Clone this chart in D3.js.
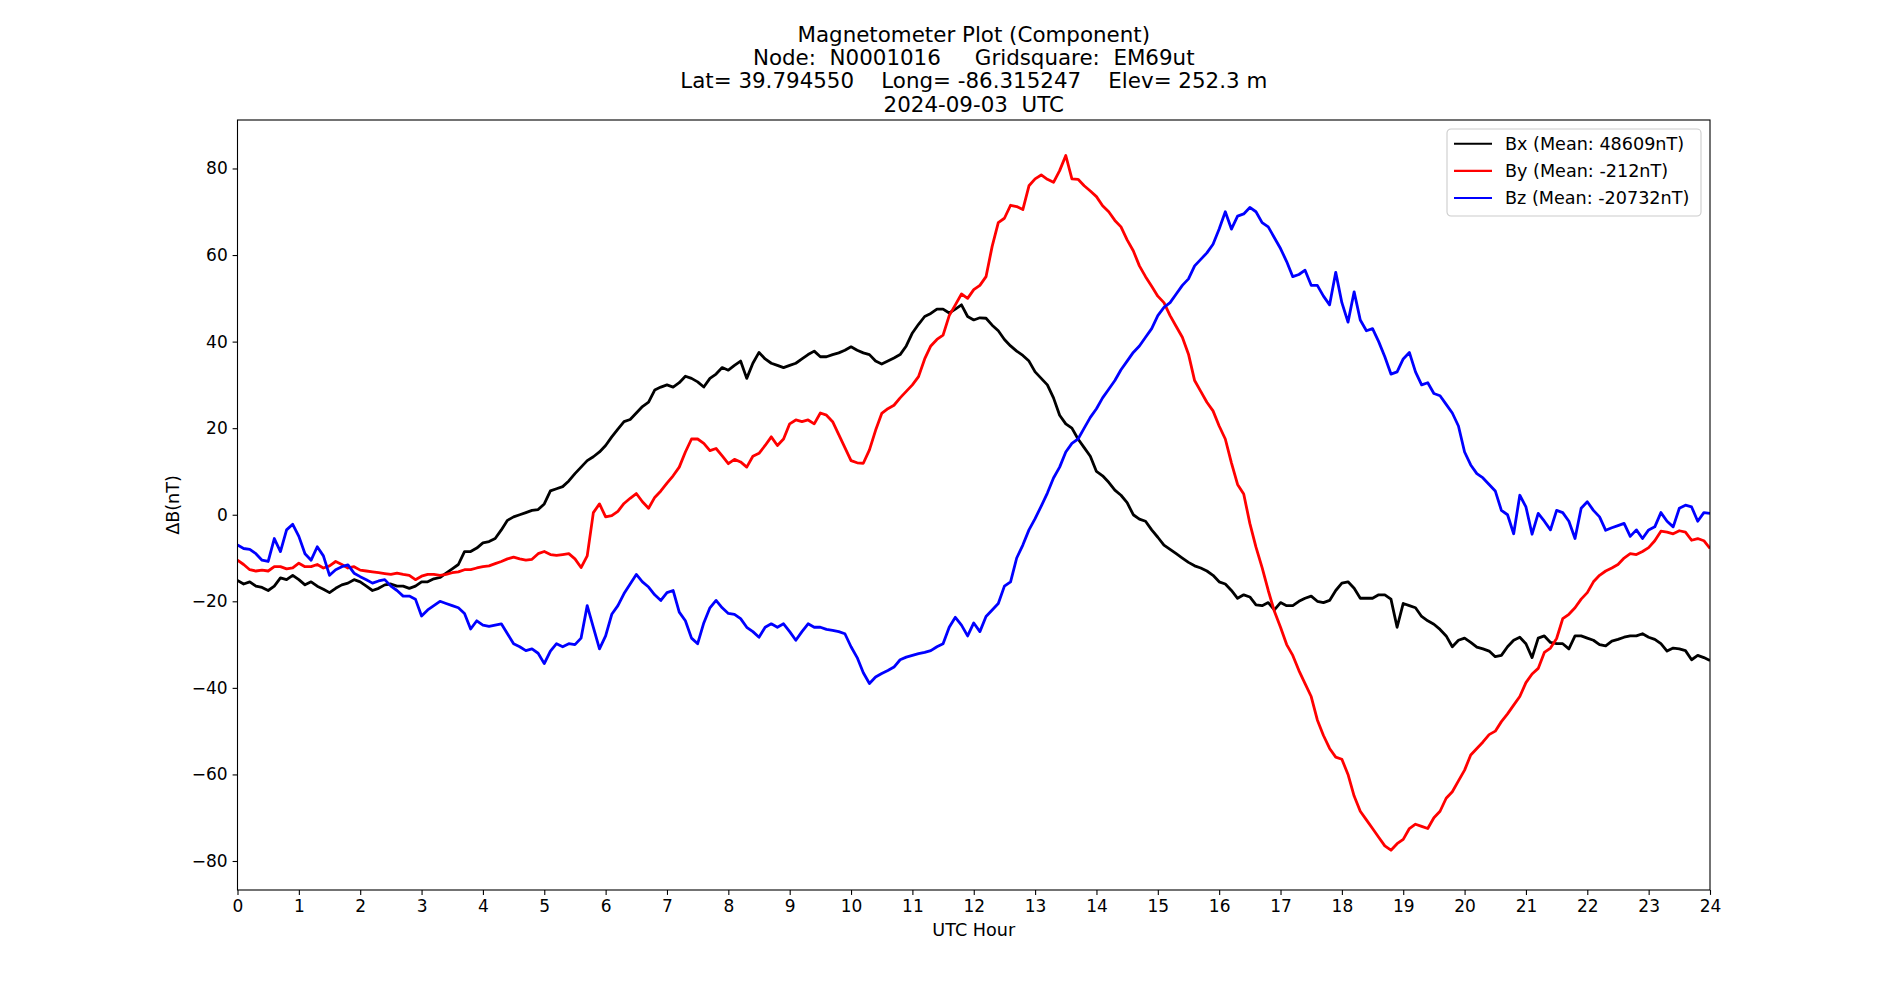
<!DOCTYPE html>
<html>
<head>
<meta charset="utf-8">
<script src="https://cdn.jsdelivr.net/npm/d3@7"></script>
<style>
  body { margin: 0; background: #fff; }
  svg text { font-family: "DejaVu Sans", sans-serif; fill: #000; white-space: pre; }
</style>
</head>
<body>
<div id="chart"></div>
<script>
// Magnetometer component plot, 24 h of deltas in nT (0.1 h steps)

const titleLines = [
  "Magnetometer Plot (Component)",
  "Node:  N0001016     Gridsquare:  EM69ut",
  "Lat= 39.794550    Long= -86.315247    Elev= 252.3 m",
  "2024-09-03  UTC"
];

const hourStep = 0.1;
const xTicks = d3.range(0, 25, 1);
const yTicks = [-80, -60, -40, -20, 0, 20, 40, 60, 80];
const yDomain = [-86.7, 91.2];

const seriesNames  = ["Bx (Mean: 48609nT)", "By (Mean: -212nT)", "Bz (Mean: -20732nT)"];
const seriesColors = ["#000000", "#ff0000", "#0000ff"];

const bx = [
  -15.2, -16, -15.5, -16.5, -16.8, -17.5, -16.5, -14.6, -15, -14,
  -15, -16.2, -15.5, -16.5, -17.2, -18, -17, -16.2, -15.8, -15,
  -15.5, -16.5, -17.5, -17, -16.2, -16, -16.5, -16.5, -17, -16.5,
  -15.5, -15.5, -14.8, -14.5, -13.5, -12.5, -11.5, -8.5, -8.5, -7.7,
  -6.5, -6.2, -5.5, -3.5, -1.3, -0.5, 0, 0.5, 1, 1.2,
  2.5, 5.5, 6, 6.5, 7.8, 9.5, 11, 12.5, 13.4, 14.5,
  16, 18, 19.8, 21.5, 22, 23.5, 25, 26, 28.8, 29.5,
  30, 29.5, 30.5, 32, 31.5, 30.7, 29.5, 31.5, 32.5, 34,
  33.4, 34.5, 35.5, 31.5, 35, 37.5, 36, 35, 34.5, 34,
  34.5, 35, 36, 37, 37.8, 36.5, 36.5, 37, 37.4, 38,
  38.8, 38, 37.4, 37, 35.5, 34.8, 35.5, 36.2, 37, 39,
  42, 44, 45.8, 46.5, 47.5, 47.5, 46.6, 47.5, 48.5, 45.8,
  45, 45.5, 45.4, 43.8, 42.5, 40.5, 39, 37.8, 36.8, 35.5,
  33, 31.5, 30, 27, 23, 21, 20, 17.5, 15.5, 13.5,
  10, 9, 7.5, 5.7, 4.5, 2.8, 0, -1, -1.5, -3.5,
  -5.2, -7, -8, -9, -10, -11, -11.8, -12.3, -13, -14,
  -15.5, -16, -17.5, -19.3, -18.5, -19, -20.8, -21, -20.3, -22,
  -20.3, -21, -21, -20, -19.3, -18.8, -20, -20.3, -19.8, -17.5,
  -15.8, -15.5, -17, -19.3, -19.3, -19.3, -18.5, -18.5, -19.5, -26,
  -20.5, -21, -21.5, -23.5, -24.5, -25.3, -26.5, -28, -30.5, -29,
  -28.5, -29.5, -30.6, -31, -31.5, -32.8, -32.5, -30.5, -29, -28.3,
  -29.8, -33, -28.5, -28, -29.5, -29.8, -29.8, -31, -28, -28,
  -28.5, -29, -30, -30.3, -29.2, -28.8, -28.3, -28, -28, -27.5,
  -28.3, -28.8, -29.8, -31.5, -30.8, -31, -31.4, -33.5, -32.5, -33,
  -33.7
];

const by = [
  -10.5, -11.5, -12.7, -13, -12.8, -13, -12, -12, -12.5, -12.3,
  -11.2, -12, -12, -11.5, -12.3, -11.8, -10.8, -11.5, -12.3, -12,
  -12.8, -13, -13.2, -13.4, -13.6, -13.8, -13.5, -13.8, -14, -15,
  -14.2, -13.8, -13.8, -14, -13.8, -13.4, -13.2, -12.7, -12.7, -12.3,
  -12, -11.8, -11.3, -10.8, -10.2, -9.8, -10.2, -10.5, -10.3, -9,
  -8.5, -9.2, -9.4, -9.2, -9, -10.2, -12.2, -9.5, 0.5, 2.5,
  -0.5, -0.2, 0.8, 2.6, 3.8, 4.9, 3, 1.5, 4, 5.5,
  7.3, 9, 11, 14.5, 17.5, 17.5, 16.5, 14.8, 15.3, 13.6,
  11.8, 12.8, 12.2, 11, 13.5, 14.2, 16, 18, 16, 17.5,
  21, 21.9, 21.5, 21.9, 21, 23.5, 23, 21.5, 18.5, 15.5,
  12.5, 12, 11.9, 15, 19.5, 23.4, 24.5, 25.3, 27, 28.5,
  30, 31.9, 36, 39, 40.5, 41.5, 46, 48.5, 51, 50,
  52, 53, 55, 62, 67.5, 68.5, 71.5, 71.2, 70.5, 76,
  77.6, 78.5, 77.5, 76.8, 79.5, 83, 77.6, 77.5, 76, 74.8,
  73.5, 71.4, 70, 68, 66.5, 63.5, 61, 57.5, 55, 52.8,
  50.5, 49, 46, 43.5, 41, 37.1, 31, 28.5, 26, 24,
  20.5, 17.5, 12, 7, 4.8, -2, -7.5, -12.2, -17.5, -22.3,
  -26, -30, -32.5, -36, -39, -42, -47.4, -51, -54, -56,
  -56.5, -60, -65, -68.5, -70.5, -72.5, -74.5, -76.5, -77.5, -76,
  -75, -72.5, -71.5, -72, -72.5, -70, -68.5, -65.5, -64, -61.5,
  -59, -55.5, -54, -52.5, -50.8, -50, -47.8, -46, -44, -42,
  -38.8, -36.8, -35.5, -31.8, -30.8, -28.6, -24, -23, -21.5, -19.5,
  -18, -15.5, -14, -13, -12.3, -11.5, -10, -9, -9.2, -8.5,
  -7.6, -6, -3.8, -4, -4.4, -3.7, -4, -5.9, -5.5, -6,
  -7.8
];

const bz = [
  -7, -7.8, -8, -9, -10.5, -10.8, -5.5, -8.5, -3.5, -2.2,
  -5, -9, -10.5, -7.4, -9.5, -14, -12.7, -12, -11.6, -13.5,
  -14.3, -15, -15.8, -15.3, -15, -16.5, -17.5, -18.8, -18.8, -19.5,
  -23.4, -22, -21, -20, -20.5, -21, -21.5, -22.8, -26.4, -24.5,
  -25.5, -25.8, -25.5, -25.2, -27.5, -29.8, -30.5, -31.4, -31, -32,
  -34.4, -31.5, -29.8, -30.5, -29.8, -30, -28.5, -21, -26, -31,
  -28, -23, -21, -18.2, -16, -13.8, -15.5, -16.7, -18.5, -19.8,
  -18, -17.5, -22.5, -24.5, -28.5, -29.8, -25, -21.5, -19.8, -21.5,
  -22.8, -23, -24, -26, -27, -28.3, -26, -25.2, -26, -25.2,
  -27, -29, -27, -25.2, -26, -26, -26.5, -26.7, -27, -27.5,
  -30.5, -33, -36.5, -39, -37.5, -36.7, -36, -35.2, -33.5, -32.9,
  -32.5, -32.1, -31.8, -31.4, -30.5, -29.8, -26, -23.7, -25.5, -28,
  -25, -27, -23.5, -22, -20.5, -16.5, -15.5, -10, -7, -3.5,
  -0.9, 2, 5, 8.5, 11, 14.5, 16.5, 17.5, 20, 22.5,
  24.5, 27, 29, 31, 33.5, 35.5, 37.5, 39, 41, 43,
  46, 47.9, 49, 51, 53, 54.5, 57.5, 59, 60.5, 62.5,
  66, 70, 66, 69, 69.5, 71, 70, 67.5, 66.5, 64,
  61.5, 58.5, 55, 55.5, 56.5, 53, 53, 50.5, 48.5, 56,
  49, 44.5, 51.5, 45, 42.5, 43, 40, 36.5, 32.5, 33,
  36, 37.5, 33, 30, 30.5, 28, 27.5, 25.5, 23.5, 20.5,
  14.5, 11.5, 9.5, 8.5, 7, 5.5, 1, 0, -4.4, 4.5,
  1.8, -4.5, 0.3, -1.5, -3.5, 1, 0.5, -1.5, -5.5, 1.5,
  3, 1, -0.5, -3.6, -3, -2.5, -2, -5, -3.5, -5.5,
  -3.5, -2.8, 0.5, -1.5, -2.8, 1.5, 2.2, 1.8, -1.5, 0.5,
  0.3
];

const seriesValues = [bx, by, bz];

// Figure geometry (matplotlib-like 19x10 in at 100 dpi)
const W = 1900, H = 1000;
const margin = { top: 120, right: 190, bottom: 110, left: 237.5 };
const width  = W - margin.left - margin.right;
const height = H - margin.top - margin.bottom;

const svg = d3.select("#chart")
  .append("svg")
  .attr("width", W)
  .attr("height", H);

const g = svg.append("g")
  .attr("transform", `translate(${margin.left},${margin.top})`);

const x = d3.scaleLinear().domain([0, 24]).range([0, width]);
const y = d3.scaleLinear().domain(yDomain).range([height, 0]);

g.append("clipPath").attr("id", "plot-clip")
  .append("rect").attr("width", width).attr("height", height);

// Lines
const line = d3.line()
  .x((d, i) => x(i * hourStep))
  .y(d => y(d));

const lines = g.append("g").attr("clip-path", "url(#plot-clip)");
seriesValues.forEach((vals, k) => {
  lines.append("path")
    .datum(vals)
    .attr("fill", "none")
    .attr("stroke", seriesColors[k])
    .attr("stroke-width", 2.8)
    .attr("stroke-linejoin", "round")
    .attr("d", line);
});

// Axes
const tickPx = 17;
const labelPx = 17.6;
const xAxis = g.append("g")
  .attr("transform", `translate(0,${height})`)
  .call(d3.axisBottom(x).tickValues(xTicks).tickFormat(d3.format("d"))
    .tickSizeInner(4.9).tickSizeOuter(0).tickPadding(4.9));

const yAxis = g.append("g")
  .call(d3.axisLeft(y).tickValues(yTicks).tickFormat(d3.format("d"))
    .tickSizeInner(4.9).tickSizeOuter(0).tickPadding(4.9));

[xAxis, yAxis].forEach(a => {
  a.select(".domain").remove();
  a.selectAll(".tick line").attr("stroke", "#000").attr("stroke-width", 1.1);
  a.selectAll(".tick text")
    .style("font-family", "'DejaVu Sans', sans-serif")
    .style("font-size", tickPx + "px")
    .attr("fill", "#000");
});

// Frame
g.append("rect")
  .attr("width", width)
  .attr("height", height)
  .attr("fill", "none")
  .attr("stroke", "#000")
  .attr("stroke-width", 1.1);

// Axis labels
svg.append("text")
  .attr("x", margin.left + width / 2)
  .attr("y", 936)
  .attr("text-anchor", "middle")
  .style("font-size", labelPx + "px")
  .text("UTC Hour");

svg.append("text")
  .attr("transform", `translate(179,${margin.top + height / 2}) rotate(-90)`)
  .attr("text-anchor", "middle")
  .style("font-size", labelPx + "px")
  .text("ΔB(nT)");

// Title
const title = svg.append("text")
  .attr("text-anchor", "middle")
  .attr("xml:space", "preserve")
  .style("font-size", "21.4px");
titleLines.forEach((t, i) => {
  title.append("tspan")
    .attr("x", margin.left + width / 2)
    .attr("y", 111.5 - (titleLines.length - 1 - i) * 23.3)
    .text(t);
});

// Legend
const legend = svg.append("g").attr("transform", "translate(1447,129)");
legend.append("rect")
  .attr("width", 254)
  .attr("height", 87)
  .attr("rx", 4)
  .attr("fill", "#fff")
  .attr("fill-opacity", 0.8)
  .attr("stroke", "#cccccc")
  .attr("stroke-width", 1.1);

seriesNames.forEach((name, k) => {
  const cy = 14.8 + k * 27.1;
  legend.append("line")
    .attr("x1", 7).attr("x2", 45)
    .attr("y1", cy).attr("y2", cy)
    .attr("stroke", seriesColors[k])
    .attr("stroke-width", 2.1);
  legend.append("text")
    .attr("x", 58)
    .attr("y", cy)
    .attr("dy", "0.36em")
    .style("font-size", labelPx + "px")
    .text(name);
});
</script>
</body>
</html>
